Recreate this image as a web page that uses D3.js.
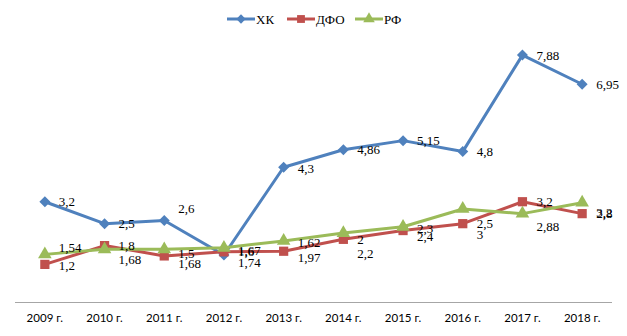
<!DOCTYPE html>
<html><head><meta charset="utf-8">
<script src="https://cdn.jsdelivr.net/npm/d3@7"></script>
<style>body{margin:0;background:#fff}svg{display:block}</style>
</head><body>
<svg id="c" width="627" height="336"></svg>
<script>
const years = ["2009 г.","2010 г.","2011 г.","2012 г.","2013 г.","2014 г.","2015 г.","2016 г.","2017 г.","2018 г."];
const seriesNames = ["ХК","ДФО","РФ"];
const xkValues  = [3.2, 2.5, 2.6, 1.5, 4.3, 4.86, 5.15, 4.8, 7.88, 6.95];
const dfoValues = [1.2, 1.8, 1.47, 1.6, 1.62, 2.0, 2.28, 2.5, 3.2, 2.82];
const rfValues  = [1.52, 1.68, 1.68, 1.73, 1.95, 2.2, 2.4, 2.97, 2.82, 3.17];
const xkLabels  = ["3,2","2,5","2,6","1,6","4,3","4,86","5,15","4,8","7,88","6,95"];
const dfoLabels = ["1,2","1,8","1,5","1,67","1,97","2","2,3","2,5","3,2","2,8"];
const rfLabels  = ["1,54","1,68","1,68","1,74","1,62","2,2","2,4","3","2,88","3,2"];

// label vertical nudges (layout only)
const labelDy = {
  "ХК":  [0,0,-12,-4,1,0,0,0,0,0],
  "ДФО": [1,0,-2,-1,6,0,-2,0,0,0],
  "РФ":  [-7,10,14,15,2,20,10,26,13,10]
};

const colors = {"ХК":"#4F81BD","ДФО":"#C0504D","РФ":"#9BBB59"};
const series = [
  {name:"ХК", values:xkValues, labels:xkLabels, marker:"diamond"},
  {name:"ДФО", values:dfoValues, labels:dfoLabels, marker:"square"},
  {name:"РФ", values:rfValues, labels:rfLabels, marker:"triangle"}
];

const svg = d3.select("#c");
svg.append("rect").attr("width",627).attr("height",336).attr("fill","#fff");

const x = d3.scaleBand().domain(years).range([15,612]);
const y = d3.scaleLinear().domain([0,9]).range([302,20]);
const cx = d => x(d) + x.bandwidth()/2;

// axis line
svg.append("line").attr("x1",15).attr("x2",612).attr("y1",302.5).attr("y2",302.5)
  .attr("stroke","#A6A6A6").attr("stroke-width",1);

// x labels
const xAxis = d3.axisBottom(x).tickSize(0).tickPadding(0);
const gx = svg.append("g").attr("transform","translate(0,314)").call(xAxis);
gx.select(".domain").remove();
gx.selectAll("text").attr("font-family","Lato, 'Open Sans', sans-serif").attr("font-size","11.5px").attr("fill","#000").attr("dy","0.71em");

// markers
const diamondPath = r => `M0,${-r}L${r},0L0,${r}L${-r},0Z`;
const markerPath = {
  diamond: s => diamondPath(5.5*s),
  square: s => d3.symbol().type(d3.symbolSquare).size(85*s*s)(),
  triangle: s => d3.symbol().type(d3.symbolTriangle).size(80*s*s)()
};

const line = d3.line().x((d,i)=>cx(years[i])).y(d=>y(d));

series.forEach(s=>{
  svg.append("path").datum(s.values).attr("d",line).attr("fill","none")
    .attr("stroke",colors[s.name]).attr("stroke-width",3).attr("stroke-linejoin","round");
  svg.append("g").selectAll("path").data(s.values).join("path")
    .attr("d", markerPath[s.marker](1))
    .attr("transform",(d,i)=>`translate(${cx(years[i])},${y(d)})`)
    .attr("fill",colors[s.name]);
});
series.forEach(s=>{
  svg.append("g").selectAll("text").data(s.values).join("text")
    .attr("x",(d,i)=>cx(years[i])+14)
    .attr("y",(d,i)=>y(d)+labelDy[s.name][i])
    .attr("dy","0.35em")
    .attr("font-family","'Liberation Serif', 'Times New Roman', serif")
    .attr("font-size","13px").attr("fill","#000")
    .text((d,i)=>s.labels[i]);
});

// legend
const legendX = [227,287,355];
const leg = svg.append("g");
series.forEach((s,i)=>{
  const g = leg.append("g").attr("transform",`translate(${legendX[i]},19)`);
  g.append("line").attr("x1",0).attr("x2",28).attr("stroke",colors[s.name]).attr("stroke-width",3);
  g.append("path").attr("d",markerPath[s.marker](0.85))
    .attr("transform","translate(14,0)").attr("fill",colors[s.name]);
  g.append("text").attr("x",29).attr("dy","0.35em")
    .attr("font-family","'Liberation Serif', 'Times New Roman', serif")
    .attr("font-size","13px").attr("fill","#000").text(s.name);
});
</script>
</body></html>
